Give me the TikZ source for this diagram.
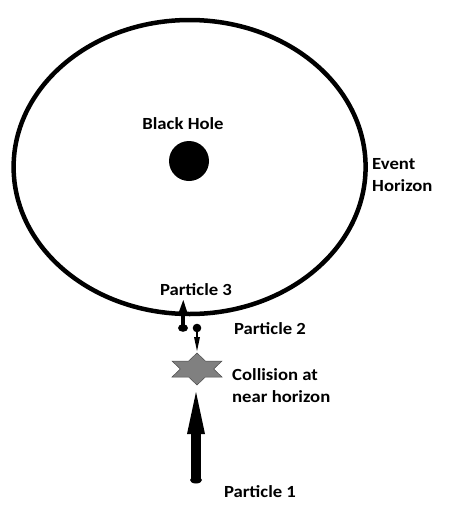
\documentclass[tikz,border=0pt]{standalone}
\usepackage{fontspec}
\setmainfont{Carlito}[FakeStretch=1.1]
\usetikzlibrary{calc}
\begin{document}
\begin{tikzpicture}[x=1pt,y=-1pt,
  lbl/.style={font=\bfseries\fontsize{17}{22}\selectfont, inner sep=0pt, align=left},
  horizon/.style={draw=black, line width=4.5pt},
  partfill/.style={fill=black, draw=none},
  starfill/.style={fill=gray, draw=black!70, line width=0.5pt}]
\useasboundingbox (0,0) rectangle (449,520);
% event horizon
\draw[horizon] (189.6,167) ellipse [x radius=176, y radius=147];
% black hole
\node[partfill, circle, minimum size=40pt, inner sep=0pt] (bh) at (189,161) {};
\node[lbl] (bhl) at (183,124) {Black Hole};
\node[lbl, anchor=north west] (ehl) at (372,158) {Event\\Horizon};
% particle 3
\coordinate (p3dot) at (183,328);
\coordinate (p3base) at (183,312);
\coordinate (p3tip) at (183.3,300);
\fill[partfill] (p3dot) ellipse [x radius=5, y radius=3.8];
\draw[line width=3.2pt] (p3dot) -- (p3base);
\fill[partfill] ($(p3base)+(-4.5,1)$) -- (p3tip) -- ($(p3base)+(4.5,1)$) -- cycle;
\node[lbl] (p3l) at (196,290) {Particle 3};
% particle 2
\coordinate (p2dot) at (197,328);
\coordinate (p2base) at (197,338);
\coordinate (p2tip) at (197,351);
\fill[partfill] (p2dot) ellipse [x radius=4.3, y radius=4.3];
\draw[line width=2.7pt] (p2dot) -- (p2base);
\fill[partfill] ($(p2base)+(-3,-1)$) -- (p2tip) -- ($(p2base)+(3,-1)$) -- cycle;
\node[lbl] (p2l) at (270,329) {Particle 2};
% collision star
\coordinate (col) at (197,369);
\filldraw[starfill] ($(col)+(0,-16)$) -- ($(col)+(8.4,-8)$) -- ($(col)+(25,-8)$) -- ($(col)+(16.7,0)$)
  -- ($(col)+(25,8)$) -- ($(col)+(8.4,8)$) -- ($(col)+(0,16)$) -- ($(col)+(-8.4,8)$)
  -- ($(col)+(-25,8)$) -- ($(col)+(-16.7,0)$) -- ($(col)+(-25,-8)$) -- ($(col)+(-8.4,-8)$) -- cycle;
\node[lbl, anchor=west] (coll) at (232,386) {Collision at\\near horizon};
% particle 1
\coordinate (p1dot) at (196,480);
\coordinate (p1base) at (196,433);
\coordinate (p1tip) at (196,392);
\fill[partfill] (p1dot) ellipse [x radius=6, y radius=3.5];
\draw[line width=10pt] (p1dot) -- (p1base);
\fill[partfill] ($(p1base)+(-9,1)$) -- (p1tip) -- ($(p1base)+(9,1)$) -- cycle;
\node[lbl] (p1l) at (260,492) {Particle 1};
\end{tikzpicture}
\end{document}
